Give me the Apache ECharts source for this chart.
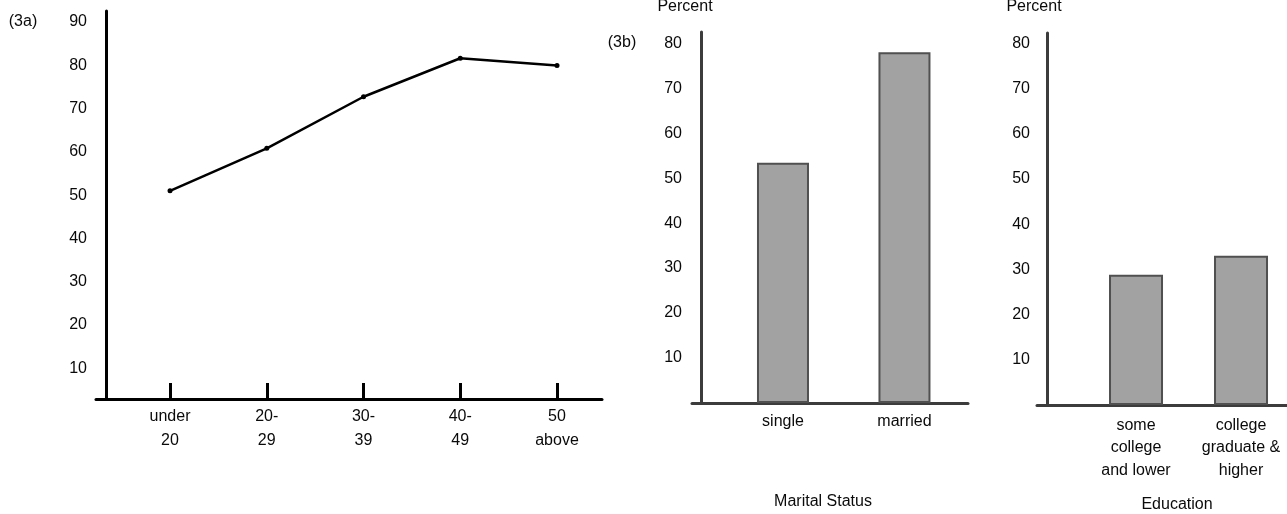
<!DOCTYPE html>
<html lang="en">
<head>
        <meta charset="UTF-8">
        <title>Figure 3a / 3b</title>
        <style>
                html, body { margin: 0; padding: 0; background: #fff; }
                #main { width: 1287px; height: 514px; }
        </style>
</head>
<body>
<div id="main"></div>

<script src="https://cdn.jsdelivr.net/npm/echarts@6/dist/echarts.min.js"></script>
<script>

        // 3a: percent by age group
        var ageGroups = ['under\n20', '20-\n29', '30-\n39', '40-\n49', '50\nabove'];
        var agePercent = [51.0, 60.8, 72.7, 81.6, 79.9];
        var ageTicks = [10, 20, 30, 40, 50, 60, 70, 80, 90];

        // 3b: percent by marital status
        var maritalGroups = ['single', 'married'];
        var maritalPercent = [53.4, 78.0];

        // 3b: percent by education
        var eduGroups = ['some\ncollege\nand lower', 'college\ngraduate &\nhigher'];
        var eduPercent = [28.8, 33.0];

        var barTicks = [10, 20, 30, 40, 50, 60, 70, 80];

        var font = 'Liberation Sans, Arial, Helvetica, sans-serif';
        var chart = echarts.init(document.getElementById('main'));

        function toPairs(arr) {
                return arr.map(function (v, i) { return [i, v]; });
        }

        function idxList(arr) {
                return arr.map(function (v, i) { return i; });
        }

        // x axes are value axes so the categories can sit where the print has them
        function catAxis(gridIndex, cats, min, max, lineColor, margin, lh, ticks) {
                return {
                        type: 'value',
                        gridIndex: gridIndex,
                        min: min,
                        max: max,
                        splitLine: { show: false },
                        axisLine: { show: true, onZero: false, lineStyle: { color: lineColor, width: 3 } },
                        axisTick: {
                                show: ticks,
                                inside: true,
                                length: 16,
                                customValues: idxList(cats),
                                lineStyle: { color: lineColor, width: 3 }
                        },
                        axisLabel: {
                                customValues: idxList(cats),
                                margin: margin,
                                color: '#0a0a0a',
                                fontFamily: font,
                                fontSize: 16,
                                lineHeight: lh,
                                align: 'center',
                                formatter: function (v) { return cats[Math.round(v)]; }
                        }
                };
        }

        function valAxis(gridIndex, min, max, offset, lineColor, margin, labels) {
                return {
                        type: 'value',
                        gridIndex: gridIndex,
                        min: min,
                        max: max,
                        offset: offset,
                        splitLine: { show: false },
                        axisTick: { show: false },
                        axisLine: { show: true, onZero: false, lineStyle: { color: lineColor, width: 3 } },
                        axisLabel: {
                                customValues: labels,
                                margin: margin,
                                color: '#0a0a0a',
                                fontFamily: font,
                                fontSize: 16
                        }
                };
        }

        function txt(x, y, s) {
                return {
                        type: 'text',
                        x: x,
                        y: y,
                        style: {
                                text: s,
                                fill: '#0a0a0a',
                                font: '16px ' + font,
                                textAlign: 'center',
                                textVerticalAlign: 'middle'
                        }
                };
        }

        var barStyle = {
                color: '#a2a2a2',
                borderColor: '#505050',
                borderWidth: 2
        };

        var option = {
                animation: false,
                backgroundColor: '#fff',
                grid: [
                        { left: 96, top: 11, width: 506, height: 388 },
                        { left: 692, top: 32, width: 276, height: 371 },
                        { left: 1037, top: 33, width: 250, height: 372 }
                ],
                xAxis: [
                        catAxis(0, ageGroups, -0.765, 4.465, '#000', 6, 24, true),
                        catAxis(1, maritalGroups, -0.749, 1.523, '#3c3c3c', 8, 22, false),
                        catAxis(2, eduGroups, -0.943, 1.438, '#3c3c3c', 9, 22.5, false)
                ],
                yAxis: [
                        valAxis(0, 2.93, 92.5, -10, '#000', 19, ageTicks),
                        valAxis(1, 0, 82.5, -9, '#3c3c3c', 19, barTicks),
                        valAxis(2, 0, 82.3, -10, '#3c3c3c', 17, barTicks)
                ],
                series: [
                        {
                                name: 'age',
                                type: 'line',
                                xAxisIndex: 0,
                                yAxisIndex: 0,
                                data: toPairs(agePercent),
                                symbol: 'circle',
                                symbolSize: 5,
                                itemStyle: { color: '#000' },
                                lineStyle: { color: '#000', width: 2.5 }
                        },
                        {
                                name: 'marital',
                                type: 'bar',
                                xAxisIndex: 1,
                                yAxisIndex: 1,
                                barWidth: 52,
                                data: toPairs(maritalPercent),
                                itemStyle: barStyle
                        },
                        {
                                name: 'education',
                                type: 'bar',
                                xAxisIndex: 2,
                                yAxisIndex: 2,
                                barWidth: 54,
                                data: toPairs(eduPercent),
                                itemStyle: barStyle
                        }
                ],
                graphic: [
                        txt(23, 22, '(3a)'),
                        txt(622, 43, '(3b)'),
                        txt(685, 7, 'Percent'),
                        txt(1034, 7, 'Percent'),
                        txt(823, 502, 'Marital Status'),
                        txt(1177, 505, 'Education')
                ]
        };

        chart.setOption(option);

</script>
</body>
</html>
